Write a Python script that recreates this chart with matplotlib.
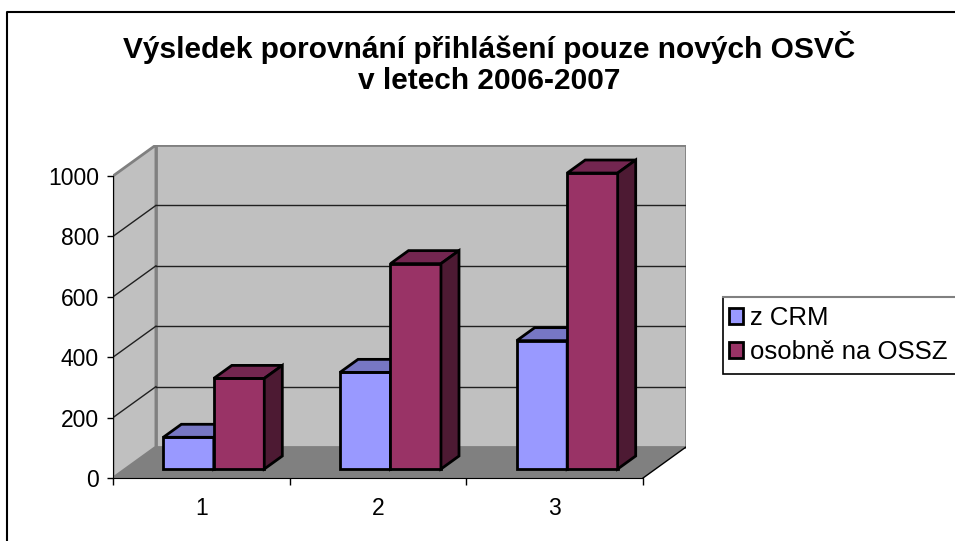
import matplotlib
matplotlib.use("Agg")
import matplotlib.pyplot as plt
from matplotlib.patches import Rectangle, Polygon
from matplotlib.lines import Line2D

categories = ['1', '2', '3']
crm = [105, 320, 425]
ossz = [300, 680, 980]
series_names = ['z CRM', 'osobně na OSSZ']
title = 'Výsledek porovnání přihlášení pouze nových OSVČ\nv letech 2006-2007'
yticks = [0, 200, 400, 600, 800, 1000]

plt.rcParams['font.family'] = ['Liberation Sans', 'DejaVu Sans']

W, H = 955, 541
fig = plt.figure(figsize=(W / 100, H / 100), dpi=100)

# oblique 3D look: depth z in [0, 1] shifts right and up
DX = 0.243
DY = 102.6
z0, z1 = 0.29, 0.71
bar_w = 1 / 3.5  # gap width 150 %

front_cols = ['#9999FF', '#993366']
top_cols = ['#7777C4', '#732650']
side_cols = ['#5C5C99', '#4D1A33']

ax = fig.add_axes([113 / W, (H - 478) / H, 573 / W, 333 / H])
ax.set_xlim(0.5, 3.5 + DX)
ax.set_ylim(0, 1000 + DY)

# walls and floor
ax.add_patch(Polygon([(0.5, 0), (3.5, 0), (3.5 + DX, DY), (0.5 + DX, DY)],
                     closed=True, fc='#808080', ec='none', zorder=0))
ax.plot([3.5, 3.5 + DX], [0, DY], color='black', lw=1, zorder=0.5)
ax.add_patch(Polygon([(0.5, 0), (0.5 + DX, DY), (0.5 + DX, 1000 + DY), (0.5, 1000)],
                     closed=True, fc='#C0C0C0', ec='#808080', lw=2, zorder=0))
ax.add_patch(Rectangle((0.5 + DX, DY), 3, 1000, fc='#C0C0C0', ec='#808080',
                       lw=2, zorder=0))
for v in yticks[1:-1]:
    ax.plot([0.5 + DX, 3.5 + DX], [v + DY, v + DY], color='#202020', lw=1, zorder=0.6)
    ax.plot([0.5, 0.5 + DX], [v, v + DY], color='#202020', lw=1, zorder=0.6)

# bars
x = [1, 2, 3]
for s, vals in enumerate([crm, ossz]):
    lefts = [xi - 0.5 + 0.75 * bar_w + s * bar_w for xi in x]
    z = 2 + s
    ax.bar([l + DX * z0 for l in lefts], vals, width=bar_w, bottom=DY * z0,
           align='edge', color=front_cols[s], edgecolor='black', lw=2,
           label=series_names[s], zorder=z)
    for l, v in zip(lefts, vals):
        r = l + bar_w
        top = [(l + DX * z0, v + DY * z0), (r + DX * z0, v + DY * z0),
               (r + DX * z1, v + DY * z1), (l + DX * z1, v + DY * z1)]
        side = [(r + DX * z0, DY * z0), (r + DX * z0, v + DY * z0),
                (r + DX * z1, v + DY * z1), (r + DX * z1, DY * z1)]
        ax.add_patch(Polygon(top, closed=True, fc=top_cols[s], ec='black',
                             lw=2, joinstyle='miter', zorder=z))
        ax.add_patch(Polygon(side, closed=True, fc=side_cols[s], ec='black',
                             lw=2, joinstyle='miter', zorder=z))

# axes
for sp in ['top', 'right']:
    ax.spines[sp].set_visible(False)
ax.spines['left'].set_bounds(0, 1000)
ax.spines['bottom'].set_bounds(0.5, 3.5)
ax.spines['left'].set_zorder(1)
ax.spines['bottom'].set_zorder(1)
ax.set_yticks(yticks)
ax.set_yticklabels([str(v) for v in yticks], fontsize=16.5)
ax.tick_params(axis='y', length=4, width=1, pad=6)
ax.set_xticks(x)
ax.set_xticklabels(categories, fontsize=16.5)
ax.set_xticks([0.5, 1.5, 2.5, 3.5], minor=True)
ax.tick_params(axis='x', which='major', length=0, pad=14)
ax.tick_params(axis='x', which='minor', length=5, width=1)

# title
fig.text(489 / W, 1 - 63 / H, title, ha='center', va='center', fontsize=21.5,
         fontweight='bold', linespacing=1.1)

# chart border (cut off on right and bottom)
fig.add_artist(Line2D([7 / W, 7 / W, 1.0], [0, 1 - 12 / H, 1 - 12 / H],
                      color='black', lw=1.5))

# legend box
fig.add_artist(Rectangle((723 / W, (H - 374) / H), 300 / W, 77 / H,
                         fc='white', ec='black', lw=1.2))
fig.add_artist(Line2D([723 / W, 1.0], [(H - 297) / H, (H - 297) / H],
                      color='#808080', lw=1.5))
fig.legend(loc='upper left', bbox_to_anchor=(729 / W, 1 - 306 / H),
           frameon=False, fontsize=18.5, handlelength=0.55, handleheight=0.55,
           handletextpad=0.25, labelspacing=0.4, borderpad=0, borderaxespad=0)

fig.savefig('out.png', dpi=100)
